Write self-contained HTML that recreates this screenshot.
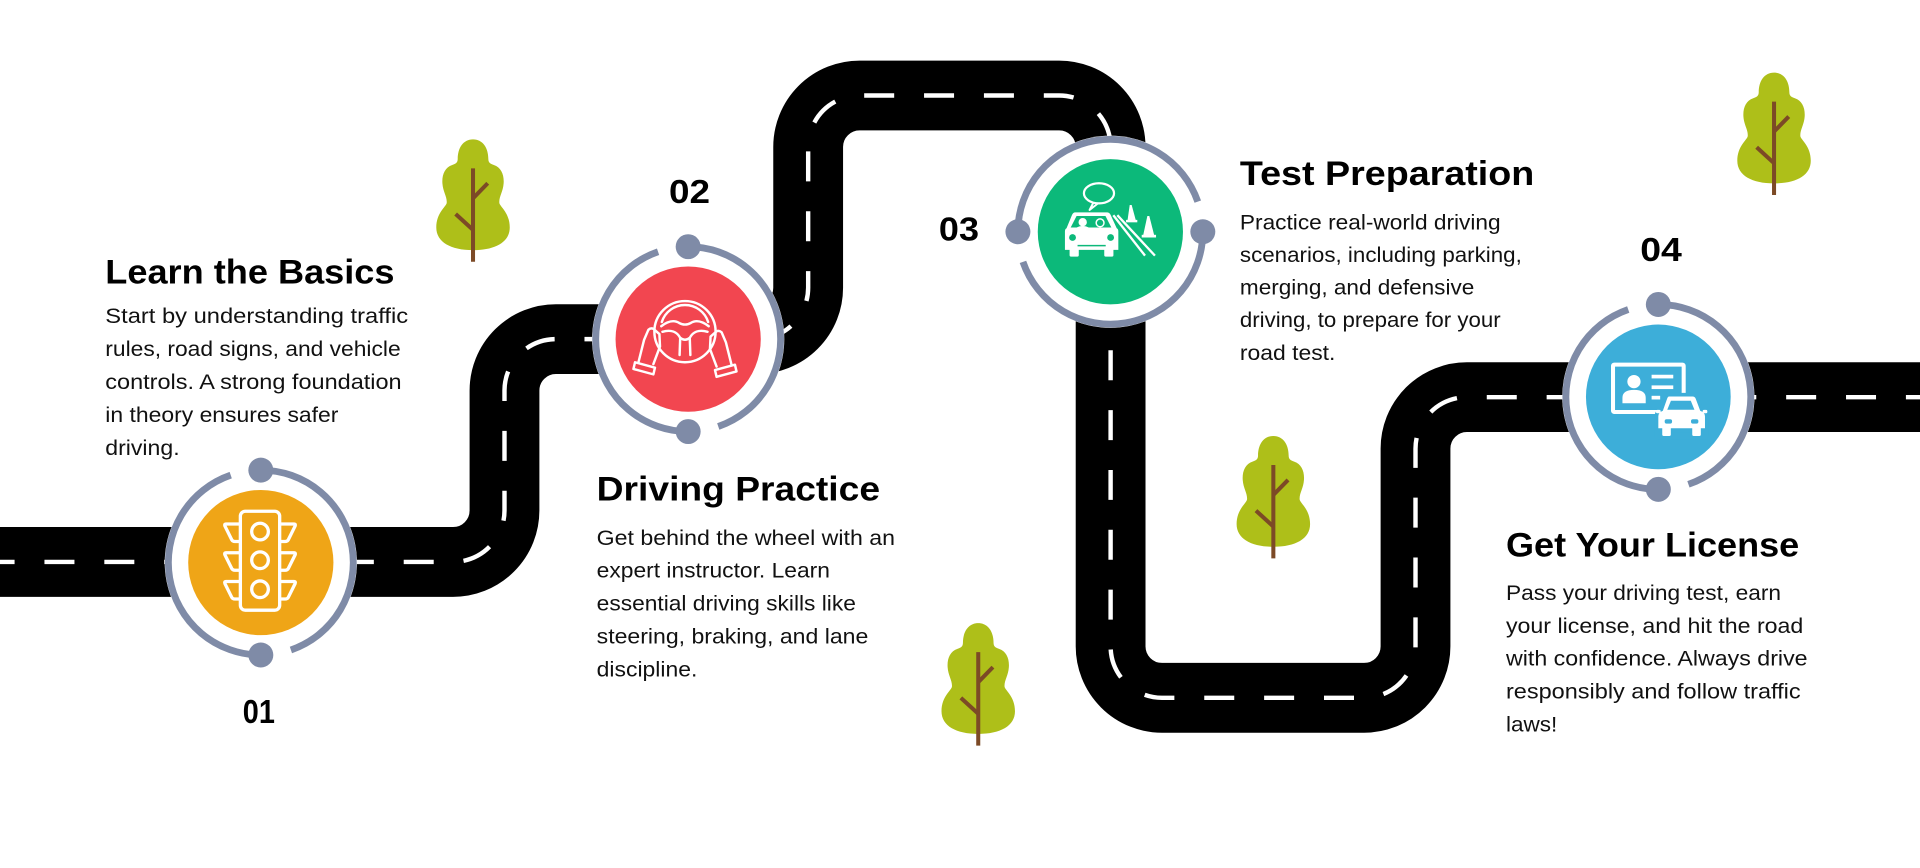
<!DOCTYPE html>
<html>
<head>
<meta charset="utf-8">
<style>
html,body{margin:0;padding:0;background:#fff;overflow:hidden;}
svg{display:block;}
.t{font-family:"Liberation Sans",Arial,sans-serif;font-weight:700;fill:#000;}
.b{font-family:"Liberation Sans",Arial,sans-serif;font-weight:400;fill:#111;font-size:17.5px;}
.n{font-family:"Liberation Sans",Arial,sans-serif;font-weight:700;fill:#000;font-size:27px;}
</style>
</head>
<body>
<svg width="1920" height="868" viewBox="0 0 1568 709" preserveAspectRatio="none" xmlns="http://www.w3.org/2000/svg">
<defs>
  <path id="tree" d="M0,0 C8,0 12.5,7 12.5,16 C12.5,19 14,20 17,21 C23,23 25.5,29 25,36 C24.5,43 21,47 21.5,52 C22,55 30,60 30,72 C30,84 18,90.5 0,90.5 C-18,90.5 -30,84 -30,72 C-30,60 -22,55 -21.5,52 C-21,47 -24.5,43 -25,36 C-25.5,29 -23,23 -17,21 C-14,20 -12.5,19 -12.5,16 C-12.5,7 -8,0 0,0 Z"/>
  <g id="treeFull">
    <use href="#tree" fill="#AEBF19"/>
    <g stroke="#7C4A26" stroke-width="3.3" stroke-linecap="butt" fill="none">
      <line x1="0" y1="23.7" x2="0" y2="100"/>
      <line x1="0" y1="48.2" x2="12" y2="35.9"/>
      <line x1="0" y1="74" x2="-14.2" y2="61"/>
    </g>
  </g>
</defs>

<rect x="0" y="0" width="1568" height="709" fill="#fff"/>

<!-- Road -->
<path d="M-10,459 H370 A42,42 0 0 0 412,417 V319 A42,42 0 0 1 454,277 H618 A42,42 0 0 0 660,235 V120 A42,42 0 0 1 702,78 H865 A42,42 0 0 1 907,120 V528 A42,42 0 0 0 949,570 H1114 A42,42 0 0 0 1156,528 V366.4 A42,42 0 0 1 1198,324.4 H1580" fill="none" stroke="#000" stroke-width="57"/>
<path d="M0,459 H370 A42,42 0 0 0 412,417 V319 A42,42 0 0 1 454,277 H618 A42,42 0 0 0 660,235 V120 A42,42 0 0 1 702,78 H865 A42,42 0 0 1 907,120 V528 A42,42 0 0 0 949,570 H1114 A42,42 0 0 0 1156,528 V366.4 A42,42 0 0 1 1198,324.4 H1580" fill="none" stroke="#fff" stroke-width="3.6" stroke-dasharray="24.5 24.4" stroke-dashoffset="12.6"/>

<!-- Trees -->
<use href="#treeFull" transform="translate(386.3,113.8)"/>
<use href="#treeFull" transform="translate(1448.8,59.3)"/>
<use href="#treeFull" transform="translate(1039.9,356.1)"/>
<use href="#treeFull" transform="translate(798.9,509)"/>

<!-- Circle 01 -->
<circle cx="213" cy="459.5" r="78.5" fill="#fff"/>
<g fill="none" stroke="#7F8BA7" stroke-width="5.6">
  <path d="M213,384 A75.5,75.5 0 0 1 237.58,530.89"/>
  <path d="M213,535 A75.5,75.5 0 0 1 188.42,388.11"/>
</g>
<circle cx="213" cy="384" r="10.2" fill="#7F8BA7"/>
<circle cx="213" cy="535" r="10.2" fill="#7F8BA7"/>
<circle cx="213" cy="459.5" r="59.3" fill="#EFA517"/>
<g fill="none" stroke="#fff" stroke-width="2.7" stroke-linejoin="round">
  <rect x="196.3" y="417.6" width="32.1" height="80.8" rx="4"/>
  <circle cx="212.35" cy="434.2" r="6.8"/>
  <circle cx="212.35" cy="457.6" r="6.8"/>
  <circle cx="212.35" cy="481.3" r="6.8"/>
  <path d="M196.3,428 H184.6 Q183,428 183.7,429.7 L189.3,441 Q190.1,442.3 191.8,442.3 H196.3"/>
  <path d="M196.3,451.5 H184.6 Q183,451.5 183.7,453.2 L189.3,464.5 Q190.1,465.8 191.8,465.8 H196.3"/>
  <path d="M196.3,475 H184.6 Q183,475 183.7,476.7 L189.3,488 Q190.1,489.3 191.8,489.3 H196.3"/>
  <path d="M228.4,428 H240.1 Q241.7,428 241,429.7 L235.4,441 Q234.6,442.3 232.9,442.3 H228.4"/>
  <path d="M228.4,451.5 H240.1 Q241.7,451.5 241,453.2 L235.4,464.5 Q234.6,465.8 232.9,465.8 H228.4"/>
  <path d="M228.4,475 H240.1 Q241.7,475 241,476.7 L235.4,488 Q234.6,489.3 232.9,489.3 H228.4"/>
</g>

<!-- Circle 02 -->
<circle cx="562" cy="277" r="78.5" fill="#fff"/>
<g fill="none" stroke="#7F8BA7" stroke-width="5.6">
  <path d="M562,201.5 A75.5,75.5 0 0 1 586.58,348.39"/>
  <path d="M562,352.5 A75.5,75.5 0 0 1 537.42,205.61"/>
</g>
<circle cx="562" cy="201.5" r="10.2" fill="#7F8BA7"/>
<circle cx="562" cy="352.5" r="10.2" fill="#7F8BA7"/>
<circle cx="562" cy="277" r="59.3" fill="#F24650"/>
<g fill="none" stroke="#fff" stroke-width="2" stroke-linejoin="round" stroke-linecap="round">
  <circle cx="559.4" cy="270.9" r="25"/>
  <path d="M540.5,263 A19.8,19.8 0 0 1 578.3,263"/>
  <path d="M540,266.5 C547,261 552,262 555,264 C557.5,265.5 561.3,265.5 563.8,264 C566.8,262 571.8,261 578.8,266.5"/>
  <path d="M541,271 C548,269 553,271 555.5,276 L555,290"/>
  <path d="M577.8,271 C570.8,269 565.8,271 563.3,276 L563.8,290"/>
  <path d="M555.5,276 Q559.4,279 563.3,276"/>
  <path d="M521.4,295.9 L526,277.6 L529.5,269.4 Q531.5,267.6 533.6,268.6 L538.5,272.9 L539,283 L533.6,297.4"/>
  <path d="M518.6,295.9 L534.9,300.3 L533.6,305.8 L517.3,301.4 Z"/>
  <path d="M597.4,297.9 L592.8,279.6 L589.3,271.4 Q587.3,269.6 585.2,270.6 L580.3,274.9 L579.8,285 L585.2,299.4"/>
  <path d="M600.2,297.9 L583.9,302.3 L585.2,307.8 L601.5,303.4 Z"/>
</g>

<!-- Circle 03 -->
<circle cx="906.8" cy="189.3" r="78.5" fill="#fff"/>
<g fill="none" stroke="#7F8BA7" stroke-width="5.6">
  <path d="M831.3,189.3 A75.5,75.5 0 0 1 978.19,164.72"/>
  <path d="M982.3,189.3 A75.5,75.5 0 0 1 835.41,213.88"/>
</g>
<circle cx="831.3" cy="189.3" r="10.2" fill="#7F8BA7"/>
<circle cx="982.3" cy="189.3" r="10.2" fill="#7F8BA7"/>
<circle cx="906.8" cy="189.3" r="59.3" fill="#0CB97A"/>
<ellipse cx="897.5" cy="157.9" rx="12.3" ry="8.2" fill="none" stroke="#fff" stroke-width="1.8"/>
<path d="M893,165.4 L889.8,171.5 L896.8,166" fill="none" stroke="#fff" stroke-width="1.6" stroke-linejoin="round"/>
<path d="M878,173.5 H904 Q906,173.5 907,175.5 L912,186.4 Q913.3,187 913.3,189 V204.1 H869.7 V189 Q869.7,187 871,186.4 L875.5,175.5 Q876.5,173.5 878,173.5 Z" fill="#fff"/>
<path d="M879.2,176.4 H902.8 L907.6,185.8 H874.4 Z" fill="#0CB97A"/>
<circle cx="884.2" cy="181.5" r="3.4" fill="#fff"/>
<path d="M878.8,186 Q884.2,183 889.6,186 Z" fill="#fff"/>
<circle cx="898.4" cy="182" r="3.2" fill="none" stroke="#fff" stroke-width="1.2"/>
<circle cx="875.9" cy="194" r="2.8" fill="#0CB97A"/>
<circle cx="907" cy="194" r="2.8" fill="#0CB97A"/>
<line x1="880" y1="200.6" x2="903" y2="200.6" stroke="#0CB97A" stroke-width="1.2"/>
<rect x="873.5" y="203" width="7.5" height="6.6" rx="1" fill="#fff"/>
<rect x="901.8" y="203" width="7.5" height="6.6" rx="1" fill="#fff"/>
<line x1="909.2" y1="175.8" x2="935.1" y2="208.8" stroke="#fff" stroke-width="1.9"/>
<line x1="912.5" y1="175.8" x2="943.2" y2="208.8" stroke="#fff" stroke-width="1.9"/>
<path d="M922.6,167.4 H924.2 L927.6,180 H920.8 Z" fill="#fff"/>
<rect x="919.6" y="179.6" width="9.2" height="2" fill="#fff"/>
<path d="M937,176.4 H938.6 L942.6,192.2 H933.6 Z" fill="#fff"/>
<rect x="932.4" y="191.8" width="11.7" height="2.2" fill="#fff"/>

<!-- Circle 04 -->
<circle cx="1354.3" cy="324.2" r="78.5" fill="#fff"/>
<g fill="none" stroke="#7F8BA7" stroke-width="5.6">
  <path d="M1354.3,248.7 A75.5,75.5 0 0 1 1378.88,395.59"/>
  <path d="M1354.3,399.7 A75.5,75.5 0 0 1 1329.72,252.81"/>
</g>
<circle cx="1354.3" cy="248.7" r="10.2" fill="#7F8BA7"/>
<circle cx="1354.3" cy="399.7" r="10.2" fill="#7F8BA7"/>
<circle cx="1354.3" cy="324.2" r="59.1" fill="#3DAED9"/>
<rect x="1317.3" y="297.8" width="57.7" height="38.7" rx="1" fill="none" stroke="#fff" stroke-width="3.3"/>
<circle cx="1334.4" cy="311.7" r="5.4" fill="#fff"/>
<path d="M1325,329.4 V325 Q1325,318.5 1334.5,318.5 Q1344,318.5 1344,325 V329.4 Z" fill="#fff"/>
<rect x="1348.8" y="306.1" width="17.7" height="3" fill="#fff"/>
<rect x="1348.8" y="314.8" width="17.7" height="3" fill="#fff"/>
<rect x="1348.8" y="323.3" width="7" height="3" fill="#fff"/>
<path d="M1363,323.9 H1382.3 Q1384,323.9 1384.8,325.6 L1388.5,335.5 Q1392.4,337 1392.4,340 V356.1 H1354.3 V340 Q1354.3,337 1358,335.5 L1361.5,325.6 Q1362.2,323.9 1363,323.9 Z" fill="#3DAED9" stroke="#3DAED9" stroke-width="6" stroke-linejoin="round"/>
<path d="M1363,323.9 H1382.3 Q1384,323.9 1384.8,325.6 L1388.5,335.5 Q1392.4,337 1392.4,340 V349.8 H1354.3 V340 Q1354.3,337 1358,335.5 L1361.5,325.6 Q1362.2,323.9 1363,323.9 Z" fill="#fff"/>
<rect x="1352.4" y="334.8" width="3.8" height="2.8" rx="1" fill="#fff"/>
<rect x="1390.5" y="334.8" width="3.8" height="2.8" rx="1" fill="#fff"/>
<rect x="1357.5" y="348" width="7" height="8.1" rx="1.2" fill="#fff"/>
<rect x="1382" y="348" width="7" height="8.1" rx="1.2" fill="#fff"/>
<path d="M1364.6,327.3 H1380.8 L1383.8,334.7 H1361.6 Z" fill="#3DAED9"/>
<rect x="1359.5" y="342.5" width="6" height="3.5" rx="1.5" fill="#3DAED9"/>
<rect x="1381" y="342.5" width="6" height="3.5" rx="1.5" fill="#3DAED9"/>

<!-- Numbers -->
<text class="n" x="198.3" y="590.7" textLength="26.2" lengthAdjust="spacingAndGlyphs">01</text>
<text class="n" x="546.3" y="166" textLength="33.5" lengthAdjust="spacingAndGlyphs">02</text>
<text class="n" x="766.8" y="196.6" textLength="32.7" lengthAdjust="spacingAndGlyphs">03</text>
<text class="n" x="1339.5" y="213" textLength="34" lengthAdjust="spacingAndGlyphs">04</text>

<!-- Block 1 -->
<text class="t" x="86" y="231.4" font-size="28" textLength="236.2" lengthAdjust="spacingAndGlyphs">Learn the Basics</text>
<text class="b" x="86" y="264" textLength="247.3" lengthAdjust="spacingAndGlyphs">Start by understanding traffic</text>
<text class="b" x="86" y="290.9" textLength="241.2" lengthAdjust="spacingAndGlyphs">rules, road signs, and vehicle</text>
<text class="b" x="86" y="317.8" textLength="242" lengthAdjust="spacingAndGlyphs">controls. A strong foundation</text>
<text class="b" x="86" y="344.7" textLength="190.4" lengthAdjust="spacingAndGlyphs">in theory ensures safer</text>
<text class="b" x="86" y="371.6" textLength="60.7" lengthAdjust="spacingAndGlyphs">driving.</text>

<!-- Block 2 -->
<text class="t" x="487.3" y="408.9" font-size="28" textLength="231.4" lengthAdjust="spacingAndGlyphs">Driving Practice</text>
<text class="b" x="487.3" y="445" textLength="243.6" lengthAdjust="spacingAndGlyphs">Get behind the wheel with an</text>
<text class="b" x="487.3" y="471.9" textLength="190.5" lengthAdjust="spacingAndGlyphs">expert instructor. Learn</text>
<text class="b" x="487.3" y="498.8" textLength="211.7" lengthAdjust="spacingAndGlyphs">essential driving skills like</text>
<text class="b" x="487.3" y="525.7" textLength="221.8" lengthAdjust="spacingAndGlyphs">steering, braking, and lane</text>
<text class="b" x="487.3" y="552.6" textLength="82.2" lengthAdjust="spacingAndGlyphs">discipline.</text>

<!-- Block 3 -->
<text class="t" x="1012.6" y="151.1" font-size="28" textLength="240.4" lengthAdjust="spacingAndGlyphs">Test Preparation</text>
<text class="b" x="1012.6" y="187.5" textLength="212.9" lengthAdjust="spacingAndGlyphs">Practice real-world driving</text>
<text class="b" x="1012.6" y="214.1" textLength="230.2" lengthAdjust="spacingAndGlyphs">scenarios, including parking,</text>
<text class="b" x="1012.6" y="240.7" textLength="191.4" lengthAdjust="spacingAndGlyphs">merging, and defensive</text>
<text class="b" x="1012.6" y="267.3" textLength="212.9" lengthAdjust="spacingAndGlyphs">driving, to prepare for your</text>
<text class="b" x="1012.6" y="293.9" textLength="78" lengthAdjust="spacingAndGlyphs">road test.</text>

<!-- Block 4 -->
<text class="t" x="1229.9" y="454.6" font-size="28" textLength="239.5" lengthAdjust="spacingAndGlyphs">Get Your License</text>
<text class="b" x="1229.9" y="490" textLength="224.6" lengthAdjust="spacingAndGlyphs">Pass your driving test, earn</text>
<text class="b" x="1229.9" y="516.9" textLength="242.8" lengthAdjust="spacingAndGlyphs">your license, and hit the road</text>
<text class="b" x="1229.9" y="543.8" textLength="246.3" lengthAdjust="spacingAndGlyphs">with confidence. Always drive</text>
<text class="b" x="1229.9" y="570.7" textLength="240.6" lengthAdjust="spacingAndGlyphs">responsibly and follow traffic</text>
<text class="b" x="1229.9" y="597.6" textLength="41.9" lengthAdjust="spacingAndGlyphs">laws!</text>
</svg>
</body>
</html>
